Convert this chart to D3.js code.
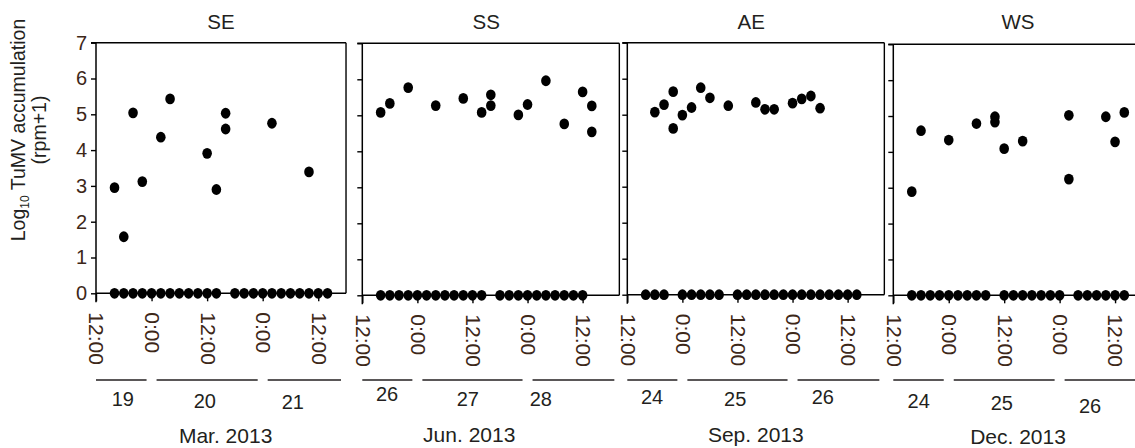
<!DOCTYPE html>
<html><head><meta charset="utf-8">
<script src="https://cdn.jsdelivr.net/npm/d3@7"></script>
<style>
html,body{margin:0;padding:0;background:#fff;}
svg{display:block;font-family:"Liberation Sans",Arial,sans-serif;}
</style></head>
<body><svg id="c" width="1135" height="448"></svg>
<script>
// ---------- data ----------
const panelNames = ["SE", "SS", "AE", "WS"];
const monthLabels = ["Mar. 2013", "Jun. 2013", "Sep. 2013", "Dec. 2013"];
const dayLabels = [["19", "20", "21"], ["26", "27", "28"], ["24", "25", "26"], ["24", "25", "26"]];
const dayLabelHours = [[5.8, 23.5, 42.5], [5.4, 23, 38.9], [5.4, 23.5, 42.6], [5.5, 23.5, 42.6]];
const dayBounds = [[0, 12, 36, 54], [0, 12, 36, 56], [0, 12, 36, 56], [0, 12, 36, 56]];
const monthLabelHours = [28, 23.3, 28, 27];
const spanHours = [54, 56, 56, 56];
const timeTickHours = [0, 12, 24, 36, 48];
const timeTickLabels = ["12:00", "0:00", "12:00", "0:00", "12:00"];
const yTicks = [0, 1, 2, 3, 4, 5, 6, 7];

// hours after the first 12:00 sample time; value = log10(rpm+1)
const seZero = [4, 6, 8, 10, 12, 14, 16, 18, 20, 22, 24, 26, 30, 32, 34, 36, 38, 40, 42, 44, 46, 48, 50];
const ssZero = [4, 6, 8, 10, 12, 14, 16, 18, 20, 22, 24, 26, 30, 32, 34, 36, 38, 40, 42, 44, 46, 48];
const aeZero = [4, 6, 8, 12, 14, 16, 18, 20, 24, 26, 28, 30, 32, 34, 36, 38, 40, 42, 44, 46, 48, 50];
const wsZero = [4, 6, 8, 10, 12, 14, 16, 18, 20, 24, 26, 28, 30, 32, 34, 36, 40, 42, 44, 46, 48, 50];

const sePos = [[4, 2.95], [6, 1.58], [8, 5.04], [10, 3.12], [14, 4.36], [16, 5.43], [24, 3.91], [26, 2.90], [28, 5.03], [28, 4.59], [38, 4.75], [46, 3.39]];
const ssPos = [[4, 5.08], [6, 5.33], [10, 5.77], [16, 5.27], [22, 5.47], [26, 5.08], [28, 5.57], [28, 5.27], [34, 5.01], [36, 5.30], [40, 5.96], [44, 4.76], [48, 5.65], [50, 5.26], [50, 4.54]];
const aePos = [[6, 5.07], [8, 5.28], [10, 5.64], [10, 4.62], [12, 4.99], [14, 5.20], [16, 5.75], [18, 5.47], [22, 5.25], [28, 5.34], [30, 5.15], [32, 5.15], [36, 5.32], [38, 5.44], [40, 5.52], [42, 5.18]];
const wsPos = [[4, 2.89], [6, 4.59], [12, 4.33], [18, 4.79], [22, 4.98], [22, 4.83], [24, 4.09], [28, 4.30], [38, 5.02], [38, 3.24], [46, 4.98], [48, 4.28], [50, 5.10]];

const zeroSets = [seZero, ssZero, aeZero, wsZero];
const posSets = [sePos, ssPos, aePos, wsPos];

// ---------- layout ----------
const panelX0 = [96, 362.3, 627.3, 893.3];
const pxPerHour = [4.63, 4.59, 4.59, 4.62];
const panelTop = [42.7, 43.3, 42.7, 44.3];
const panelBottom = [293.3, 295.3, 294.7, 295.3];
const dayLabelDy = [[0, 2, 3], [-5, 0, 0], [-2, 0, -2], [2, 4, 7]];
const monthDy = [0, -1, -1, 1];
const brown = "#3d2718";
const dark = "#231f20";

const svg = d3.select("#c");

panelNames.forEach((name, i) => {
  const x = d3.scaleLinear().domain([0, spanHours[i]])
    .range([panelX0[i], panelX0[i] + spanHours[i] * pxPerHour[i]]);
  const y = d3.scaleLinear().domain([0, 7]).range([panelBottom[i], panelTop[i]]);
  const g = svg.append("g");
  const x0 = x(0), x1 = x(spanHours[i]);

  // box: top and right
  g.append("line").attr("x1", x0 - 5).attr("x2", x1).attr("y1", y(7)).attr("y2", y(7))
    .attr("stroke", "#000").attr("stroke-width", 1.4);
  g.append("line").attr("x1", x1).attr("x2", x1).attr("y1", y(7)).attr("y2", y(0))
    .attr("stroke", "#000").attr("stroke-width", 1.4);

  // y axis
  const ya = d3.axisLeft(y).tickValues(yTicks).tickSize(5).tickPadding(4)
    .tickFormat(i === 0 ? d3.format("d") : () => "");
  const yg = g.append("g").attr("transform", `translate(${x0},0)`).call(ya);
  yg.select(".domain").remove();
  yg.selectAll(".tick line").attr("stroke", "#000").attr("stroke-width", 1.4);
  yg.selectAll(".tick text").attr("fill", brown).attr("font-size", 20)
    .attr("font-family", "Liberation Sans, Arial, sans-serif");
  g.append("line").attr("x1", x0).attr("x2", x0).attr("y1", y(7)).attr("y2", y(0) + 9)
    .attr("stroke", "#000").attr("stroke-width", 1.5);

  // x axis along zero
  const xa = d3.axisBottom(x).tickValues(timeTickHours).tickSize(8).tickFormat(() => "");
  const xg = g.append("g").attr("transform", `translate(0,${y(0)})`).call(xa);
  xg.select(".domain").remove();
  xg.selectAll(".tick line").attr("stroke", "#000").attr("stroke-width", 1.4);
  g.append("line").attr("x1", x0).attr("x2", x1).attr("y1", y(0)).attr("y2", y(0))
    .attr("stroke", "#000").attr("stroke-width", 1.5);

  // rotated tick labels
  g.selectAll(".tl").data(timeTickHours).enter().append("text")
    .attr("transform", (d) => `translate(${x(d) + 1},${y(0) + 19}) rotate(90)`)
    .attr("dy", "0.36em").attr("text-anchor", "start")
    .attr("font-size", 21).attr("fill", brown)
    .text((d, k) => timeTickLabels[k]);

  // title
  g.append("text").attr("x", x(27)).attr("y", 29)
    .attr("text-anchor", "middle").attr("font-size", 20.5).attr("fill", dark).text(name);

  // dots
  const zeros = zeroSets[i].map((h) => [h, 0]);
  const all = zeros.concat(posSets[i]);
  g.selectAll(".dot").data(all).enter().append("ellipse")
    .attr("cx", (d) => x(d[0])).attr("cy", (d) => y(d[1]))
    .attr("rx", 4.8).attr("ry", 5.4).attr("fill", "#000");

  // day bracket lines
  const b = dayBounds[i];
  for (let k = 0; k < 3; k++) {
    const a = x(b[k]) + (k === 0 ? 0 : 5);
    const e = x(b[k + 1]) - 5;
    g.append("line").attr("x1", a).attr("x2", e).attr("y1", 380).attr("y2", 380)
      .attr("stroke", dark).attr("stroke-width", 1.3);
    g.append("text").attr("x", x(dayLabelHours[i][k])).attr("y", 406 + dayLabelDy[i][k])
      .attr("text-anchor", "middle").attr("font-size", 20).attr("fill", dark)
      .text(dayLabels[i][k]);
  }
  g.append("text").attr("x", x(monthLabelHours[i])).attr("y", 443 + monthDy[i])
    .attr("text-anchor", "middle").attr("font-size", 21).attr("fill", dark)
    .text(monthLabels[i]);
});

// y axis title
const yt = svg.append("text").attr("transform", "translate(25,130) rotate(-90)")
  .attr("text-anchor", "middle").attr("font-size", 19.5).attr("fill", dark);
yt.append("tspan").text("Log");
yt.append("tspan").attr("font-size", 12).attr("dy", 4).text("10");
yt.append("tspan").attr("dy", -4).text(" TuMV accumulation");
svg.append("text").attr("transform", "translate(46,130) rotate(-90)")
  .attr("text-anchor", "middle").attr("font-size", 19.5).attr("fill", dark).text("(rpm+1)");
</script>
</body></html>
